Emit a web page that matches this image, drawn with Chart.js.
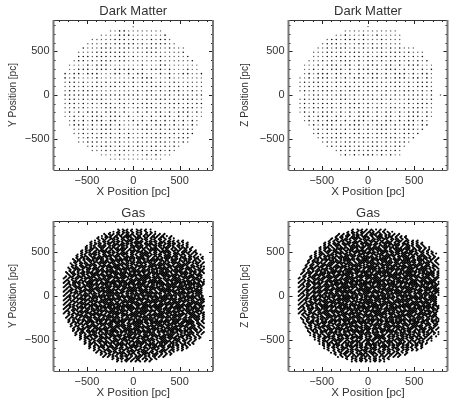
<!DOCTYPE html>
<html>
<head>
<meta charset="utf-8">
<style>
body { margin: 0; background: #fff; }
canvas { position: absolute; }
</style>
<script src="https://cdn.jsdelivr.net/npm/chart.js@4"></script>
</head>
<body>
<canvas id="dmXY" width="229" height="206" style="left:0;top:0"></canvas>
<canvas id="dmXZ" width="229" height="206" style="left:229px;top:0"></canvas>
<canvas id="gasXY" width="229" height="206" style="left:0;top:206px"></canvas>
<canvas id="gasXZ" width="229" height="206" style="left:229px;top:206px"></canvas>
<script>
const majorTicks = [-500, 0, 500];
const minorTicks = [-800, -700, -600, -400, -300, -200, -100, 100, 200, 300, 400, 600, 700, 800];

// dark matter particles sit on a regular lattice, # is a dark dot and + a faint one
const dmCols = [-735, -686, -637, -588, -539, -490, -441, -392, -343, -294, -245, -196, -147, -98, -49, 0, 49, 98, 147, 196, 245, 294, 343, 392, 441, 490, 539, 588, 637, 686, 735, 784, 833];
const dmRows = [784, 735, 686, 637, 588, 539, 490, 441, 392, 343, 294, 245, 196, 147, 98, 49, 0, -49, -98, -147, -196, -245, -294, -343, -392, -441, -490, -539, -588, -637, -686, -735];

const dmXYMask = [
  "               +                 ",
  "          ++##++++++++           ",
  "        ++++###+++++++#          ",
  "      +++++###+#+++#+##+         ",
  "     ++++#+#####+#+####++        ",
  "    #+++###+###+#+###++#+++      ",
  "   ++++#######++++###+++++#      ",
  "   ###+###+###+#+++++#+++++#     ",
  "  +##+#+###+##+++++++#++++++#    ",
  " ++++#+###+++++++#+++##+++++++   ",
  " ++###+###+#####+#+###+#+++#++   ",
  "#+##+###+++##+#+##+++#+#++##++#  ",
  "#+#++++#+++++++#+###+++#+++++++  ",
  "+##+#++#+#+###+#+###+#++#++++++  ",
  "++#+#+###+##+#+#+#+###+#+#+#+++  ",
  "+##+###+++++++++#+##+#+###++#++  ",
  "#################+###+##+###+##  ",
  "+##+#+###+++#+++#+#+###+#+###++  ",
  "+##+#+#+###+##+#+###+#+###+#+##  ",
  "++#+#++++###+#++#+###+#+#+###++  ",
  "+#+#+###+###+#++#+#+##+#+###+#+  ",
  "++#+#+###+###+#++#+#+###+#+#+++  ",
  " +#+#+###+##+++#+#+##+#+#+#+#+   ",
  " +###+#+###+#+++#+#+###+#+#+#+   ",
  "  ++#+#+###+#++++###+#+#+#+#+    ",
  "  ++#+#+###+#+#+++#+###+#+###    ",
  "   ++#+##+#+#+#++#+###+#+###     ",
  "   ++###+#+##+++#+#+###+#+#+     ",
  "     +#+###+#+#+##+##+#+#+       ",
  "      +++#+#+#+++#+###+#+        ",
  "        ++++#+++++#+#+++         ",
  "          ++++++++++++           "
];

const dmXZMask = [
  "               +                 ",
  "          ++++++++++++           ",
  "        ++#+++#++#+++++          ",
  "      +##+###+#+++#++++          ",
  "     +###+#++##+#+#++++          ",
  "    ++#+###+#+#+###+#+#+++       ",
  "   +++##+#+###+#++#+###+#+++     ",
  "   +++#+###+##+#+###+#+#+#+#     ",
  "  +++#+#+###+#+##+#+###+#+#+#    ",
  " +++#+###+##+#+###+##+#+###+++   ",
  " ++#+#+###+#+###+#+###+#+#+#+#   ",
  " +#+###+##+#+#+###+#+###+#+##+   ",
  "++#+###+#+#+###+##+#+###+##+#+   ",
  "+#+##+#+###+#+###+#+###+#+###+   ",
  "++#+###+#+##+#+###+#+##+#+###+   ",
  "+#+#+###+#+###+#+#+#+#+###+#+#   ",
  " ++##+#+###+#+###+##+#+#+###+# + +",
  "+#+###+#+##+#+#+###+#+++##+#+#   ",
  "+#+#+###+#+###+#++#+++++#+###+   ",
  "+#+###+#+#+###+#+#++##+#+###++   ",
  "+#+#+###+#+#+###+#+##+#+###+#+   ",
  " +#+###+##+#+###+#+##+#+###+#+   ",
  " +#+#+###+#+###+##+##+#+##+#+    ",
  "  +#+###+#+###+#+###+#+###+##    ",
  "   +#+###+#+##+#+###+#+###+#     ",
  "   +#+#+###+##+#+###+#+##+#      ",
  "    +#+###+#+###+#+###+#+#       ",
  "     +#+#+###+#+##+#+###+        ",
  "      +#+###+#+###+#+##+         ",
  "        +#+###+#+###+#+          ",
  "         +#+#+###+#+#++          ",
  "                                 "
];

// gas is far too dense to read one by one, so this is a coarse estimate of the grain,
// two masks laid on two lattices half a cell apart
const gasCols = [-750, -725, -700, -675, -650, -625, -600, -575, -550, -525, -500, -475, -450, -425, -400, -375, -350, -325, -300, -275, -250, -225, -200, -175, -150, -125, -100, -75, -50, -25, 0, 25, 50, 75, 100, 125, 150, 175, 200, 225, 250, 275, 300, 325, 350, 375, 400, 425, 450, 475, 500, 525, 550, 575, 600, 625, 650, 675, 700, 725, 750];
const gasRows = [750, 725, 700, 675, 650, 625, 600, 575, 550, 525, 500, 475, 450, 425, 400, 375, 350, 325, 300, 275, 250, 225, 200, 175, 150, 125, 100, 75, 50, 25, 0, -25, -50, -75, -100, -125, -150, -175, -200, -225, -250, -275, -300, -325, -350, -375, -400, -425, -450, -475, -500, -525, -550, -575, -600, -625, -650, -675, -700, -725, -750];
const gasColsB = [-738, -713, -688, -663, -638, -613, -588, -563, -538, -513, -488, -463, -438, -413, -388, -363, -338, -313, -288, -263, -238, -213, -188, -163, -138, -113, -88, -63, -38, -13, 12, 37, 62, 87, 112, 137, 162, 187, 212, 237, 262, 287, 312, 337, 362, 387, 412, 437, 462, 487, 512, 537, 562, 587, 612, 637, 662, 687, 712, 737, 762];
const gasRowsB = [762, 737, 712, 687, 662, 637, 612, 587, 562, 537, 512, 487, 462, 437, 412, 387, 362, 337, 312, 287, 262, 237, 212, 187, 162, 137, 112, 87, 62, 37, 12, -13, -38, -63, -88, -113, -138, -163, -188, -213, -238, -263, -288, -313, -338, -363, -388, -413, -438, -463, -488, -513, -538, -563, -588, -613, -638, -663, -688, -713, -738];

const gasXYMask = [
  "                       .#.##.#..##.#..",
  "                    #..##.###.#.##..#.#..",
  "                 .#.##.###.####.##.###.#.#.#",
  "               #..###.##.#####.###.##.###.##..#.",
  "              .#.##.####.##.#####.###.##.##.#.#.",
  "            #..#.###.#####.###.####.#####.##.###.#.#.",
  "           .#.###.###.##.#####.###.####.###.#####.#..#",
  "          #.##.####.###.####.######.##.#####.###.###.#.",
  "         .#.###.##.#####.###.##.#####.###.####.##.####.#.",
  "        #.###.#####.##.####.#####.##.#####.###.####.##.#.#",
  "       .#.##.###.#######.###.##.######.##.#####.##.####.##..",
  "      #.##.#####.##.##.#####.###.####.#####.###.#####.##.#.#",
  "     .#.###.##.######.###.#####.###.##.####.######.##.###.#.#.",
  "    #.##.###.#####.###.#####.##.#####.#####.##.####.####.##.#.",
  "    .###.#.####.####.#####.####.##.######.####.##.#####.##.#.#",
  "   #.#.####.##.####.###.#######.####.###.#####.####.###.###.#.#",
  "   .##.##.#####.#####.####.###.#####.#######.###.#####.##.##.#.",
  "  #.###.####.###.#.######.######.###.##.#######.####.####.##.#.#",
  "  .#.####.##.#####.###.######.###.#######.####.#####.###.####..#",
  " #.##.#.#####.##.#######.###.#######.####.#####.######.###.##.#.",
  " .#.###.###.######.##.#####.######.###.#######.###.###.#####.#.#",
  " #.##.####.###.#.#######.#######.#####.###.######.#######.##.#.#",
  "#.#.###.#####.#######.#####.##.#######.#######.####.###.####.##.#",
  ".##.##.###.######.##.#######.#######.######.#######.#####.##.#.#.",
  "#.#.#####.###.#.#######.#######.####.#######.#.######.#####.###.#",
  ".#.###.#.#######.####.#######.#######.###.#######.#######.###.#.#",
  "#.##.#####.##.#######.###.########.#######.#.#######.####.##.##.#",
  ".#.###.#.#######.#.########.####.#######.#######.#######.###.#.#.",
  "#.##.#####.###.#######.#.#######.######.#.#######.###.######.##.#",
  ".#.#.###.#######.#.#######.########.#######.###.#######.####.#.#.",
  "#.###.#.####.#########.#######.##.#######.#######.#.#######.##.#.",
  ".#.#.#####.####.#.#######.#.#########.#.#########.###.####.##.#.#",
  "#.###.#.#######.#######.#######.###.#########.###.#######.###.#.#",
  ".#.#.#####.##.########.#.########.#######.#.#######.#.#######.#.#.",
  "#.###.#.#######.#.#######.####.#######.#########.#######.###.##.#",
  ".#.##.####.##.#######.#########.#.#########.#.######.#####.###.#.",
  "#.#.###.#.#######.#.#######.#########.#.#######.###.#######.##.#.",
  ".##.#.#####.##.#########.###.#.#########.###.#######.##.####.#.#.",
  "#.#.###.#.#######.#.########.#######.#.########.#.#######.###.##.",
  " .#.#.#####.##.#######.#.#########.#########.#######.#.####.#.#",
  " #.###.#.#######.#.#######.###.#.#######.########.#.#######.#.#.",
  " .#.#.####.##.#########.#######.#######.#.#.#######.####.##.##.#",
  "  #.###.#.#####.#.#.#######.#.#######.########.###.######.#.#.#",
  "  .#.#.####.##.#######.####.#######.#.#.#########.##.####.##.#.",
  "   #.##.#.#####.#.#.#######.##.#########.###.#.#######.##.#.#.#",
  "   .#.####.#.#######.##.#.#######.#.#######.#######.#.####.#.#.",
  "    #.#.#.#####.#.######.#####.#######.#.#######.#####.#.#.#.#",
  "    .#.###.#.###.#####.#.#.#######.#####.#.#.#####.##.###.#.#.",
  "     #.#.#.####.#.#.#######.##.#.#.#######.#####.#.####.#.#",
  "      .#.##.#.#.#####.#.#.#######.###.#.#.#######.##.#.#.#.#",
  "       #.#.###.##.#.#.#######.#.#.#######.###.#.###.##.#.#",
  "        .#.#.#.#####.###.#.#.#######.#.#.#######.##.#.#.#",
  "         #.##.#.#.#.#.#######.#.###.#####.#.#.##.#.##.#.#",
  "          .#.#.###.###.#.#.#.#####.#.#.#####.###.#.#.#.",
  "           #.#.#.#.#.#####.###.#.#.#####.#.#.#.#.#.#.#",
  "            .#.##.###.#.#.#.#####.###.#.#.###.##.#.#.",
  "              #.#.#.#.#####.#.#.#.#####.#.#.#.#.",
  "               .#.#.##.#.#.###.#.###.#.##.#.#.#.",
  "                 #.#.#.#.#.#.#.###.#.#.#.#.#",
  "                    .#.#.#.##.#.#.#.#.#.#",
  "                       #.#.#.#.#.#.#.#"
];

const gasXZMask = [
  "                       #..##.#.##..#.#",
  "                    .#.###.##.###.##.#.#.",
  "                 #.#.##.####.#.###.##.##.#.#",
  "               .#.##.#.####.###.#.###.###.#.#.#.",
  "              #.##.####.##.####.####.##.####.#.#",
  "            .#.#.###.##.####.#.####.#.###.###.##.#.#.",
  "           #.#.###.####.##.#####.###.####.##.###.#.#.#",
  "          .#.##.###.#.#####.####.#.#####.###.#.###.##.#",
  "         #.###.#.#####.###.##.######.##.#####.###.#.##.#.",
  "        .#.#.####.#.####.#####.##.#####.#.####.###.##.#.#.",
  "       #.##.##.#####.##.###.#######.###.####.#####.#.##.#.#",
  "      .#.###.####.#.#####.###.#.#####.######.##.####.##.#.#.",
  "     #.#.#.###.#######.##.#######.##.###.#.#####.##.####.#.#.#",
  "    .#.##.####.##.#.#######.###.#######.#####.###.#.####.##.#.",
  "    #.###.#.#.#####.###.#.#######.#.#####.##.######.###.##.#.#",
  "   .#.#.####.###.#######.####.#######.###.#######.#.#####.#.##.",
  "   #.##.#.#####.##.##.#######.###.#.#######.###.######.##.##.#.",
  "  .#.###.##.#.#######.##.#.#######.#######.#.#######.###.##.#.#",
  "  #.#.#.#####.###.#.#######.#.####.#.#########.###.#####.#.#.#.",
  " .#.###.#.##.#######.###.########.#######.#.#.#######.#.###.#.#.",
  " #.#.#.#####.#.#.#######.#.#.#######.#.#######.####.#.#####.##.#",
  " .##.###.#.#######.#.###.#######.##.#######.#.#######.###.#.#.#.",
  "#.#.#.######.##.#.########.#.#######.#.#.#########.#.#####.##.#.#",
  ".#.###.#.##.#######.##.#######.#.#########.###.#.#######.###.#.#.",
  "#.#.#.#####.#.#.########.#.#########.#.###.#########.#.#####.#.#.",
  ".##.##.#.#.#######.###.#######.##.#########.#.#.#######.#.###.##.",
  "#.#.#.#####.##.#.#########.#.#######.#.#.#########.#.#######.#.#.",
  ".#.###.#.#.########.#.##.#######.#.#########.#.#######.###.##.#.#",
  "#.#.#.#####.#.#.#########.#.#########.###.#########.##.#.####.#.#",
  ".##.##.#.#.#######.#.#.########.#.#.#########.#.#.#######.##.#.#.",
  "#.#.#.#####.##.#########.#.#.#########.#.#.#########.#.#.###.##.#",
  ".#.###.#.#.#.#.#.#########.#.#.#.#########.#.#.#########.###.#.#.",
  "#.##.#.######.#########.##.#########.#.#.#########.#.#.#####.#.#.",
  ".#.#.###.#.#########.#.#.#########.#.#########.#.#########.#.##.#",
  "#.#.###.#####.#.#.#########.#.#.#######.###.#########.#.####.#.#.",
  ".##.#.#.#.#########.###.#.#########.#.#.#########.#.#######.##.#.",
  "#.#.###.#####.#.#.#########.###.#.#########.#.#.#######.#.###.#.#",
  ".#.#.#.#.#.#########.#.#.#.#########.###.#.#########.#.####.##.#.",
  "#.##.###.#####.#.#.#########.#.#.#########.#.#.###.#######.#.#.#.",
  " .#.#.#.#.#.#########.#.###.#########.#.#.#########.#.##.###.#.#",
  " #.##.###.#####.#.#.#########.#.#.#.#########.#.#.#####.#.#.##.#",
  " .#.#.#.#.#.#.#########.#.#.#########.#.###.#######.#.###.##.#.",
  "  #.###.#.#####.#.#.#.#########.#.#.#.#######.#.#.#####.#.#.#.#",
  "  .#.#.###.#.#.#########.#.#.#.#########.#.#.#######.#.###.##.#",
  "   #.#.#.#####.#.#.#.#######.###.#.#.#########.#.#####.#.#.#.#",
  "   .##.#.#.#.#########.#.#.#.#########.#.#.#.#####.#.###.##.#.",
  "    #.#.#.###.#.#.#.#########.#.#.#.#######.#.###.#.#.#.#.#.",
  "    .#.##.#.#####.#.#.#.#.#########.#.#.#.#####.#.###.#.##.#.",
  "     #.#.#.#.#.#.#######.#.#.#.#.#####.#.#.###.##.#.#.#.#.",
  "      .#.#.###.#.#.#.#.#####.#.#.#####.#.#.#.#.###.#.#.#.#",
  "       #.#.#.#.#####.#.#.#.#.#####.#.#.#.#####.#.#.##.#.#",
  "        .#.##.#.#.#.#.#####.#.#.#.#.#####.#.#.#.#.#.#.#.",
  "         #.#.#.###.#.#.#.#.#.#####.#.#.#.#.###.#.#.#.#.#",
  "          .#.#.#.#.#.#####.#.#.#.#.#####.#.#.#.#.#.#.#.",
  "           #.#.#.#.###.#.#.#.#####.#.#.#.###.#.#.#.#.#",
  "            .#.#.#.#.#.#.#####.#.#.#.#.#.#.#.#.#.#.#.",
  "              #.#.#.##.#.#.#.#.###.#.#.#.#.#.#.#",
  "               .#.#.#.#.#.###.#.#.#.#.#.#.#.#.#.",
  "                 #.#.#.#.#.#.#.#.#.#.#.#.#.#",
  "                    .#.#.#.#.#.#.#.#.#.#.",
  "                       #.#.#.#.#.#.#.#"
];

function maskToPoints(mask, cols, rows, mark) {
  const points = [];
  mask.forEach((line, r) => {
    for (let c = 0; c < line.length && c < cols.length; c++) {
      if (line[c] === mark) points.push({ x: cols[c], y: rows[r] });
    }
  });
  return points;
}

const FONT = 'Liberation Sans, Arial, sans-serif';
const INK = '#333';

// IDL style inward ticks on all four sides plus the box
const frameTicks = {
  id: 'frameTicks',
  afterDatasetsDraw(chart) {
    const { ctx, chartArea: a, scales } = chart;
    ctx.save();
    ctx.strokeStyle = '#222';
    ctx.lineWidth = 1;
    const tickSet = (vals, len) => {
      vals.forEach(v => {
        const px = Math.round(scales.x.getPixelForValue(v)) + 0.5;
        const py = Math.round(scales.y.getPixelForValue(v)) + 0.5;
        ctx.beginPath();
        ctx.moveTo(px, a.top); ctx.lineTo(px, a.top + len);
        ctx.moveTo(px, a.bottom); ctx.lineTo(px, a.bottom - len);
        ctx.moveTo(a.left, py); ctx.lineTo(a.left + len, py);
        ctx.moveTo(a.right, py); ctx.lineTo(a.right - len, py);
        ctx.stroke();
      });
    };
    tickSet(majorTicks, 4);
    tickSet(minorTicks, 2);
    ctx.strokeStyle = '#333';
    ctx.beginPath();
    ctx.moveTo(a.left, a.top + 0.5); ctx.lineTo(a.right, a.top + 0.5);
    ctx.stroke();
    ctx.strokeStyle = '#555';
    ctx.beginPath();
    ctx.moveTo(a.left, a.bottom + 0.5); ctx.lineTo(a.right, a.bottom + 0.5);
    ctx.stroke();
    ctx.strokeStyle = '#777';
    ctx.lineWidth = 2;
    ctx.beginPath();
    ctx.moveTo(a.left, a.top); ctx.lineTo(a.left, a.bottom);
    ctx.moveTo(a.right, a.top); ctx.lineTo(a.right, a.bottom);
    ctx.stroke();
    ctx.restore();
  }
};

function makePanel(id, p) {
  new Chart(document.getElementById(id), {
    type: 'scatter',
    data: {
      datasets: p.sets.map(s => ({
        data: s.points,
        backgroundColor: s.color,
        borderWidth: 0,
        pointRadius: s.radius,
        pointHoverRadius: s.radius
      }))
    },
    options: {
      responsive: false,
      animation: false,
      layout: { padding: { right: p.right, top: 0, bottom: 0, left: 0 } },
      plugins: {
        legend: { display: false },
        tooltip: { enabled: false },
        title: {
          display: true,
          text: p.title,
          fullSize: false,
          color: INK,
          font: { family: FONT, size: 13, weight: 'normal', lineHeight: 1 },
          padding: p.titlePad
        }
      },
      scales: {
        x: {
          type: 'linear',
          min: -860,
          max: 860,
          afterBuildTicks: s => { s.ticks = majorTicks.map(v => ({ value: v })); },
          afterFit: s => { s.height = p.xHeight; },
          grid: { display: false, drawTicks: false },
          border: { display: false },
          ticks: {
            color: INK,
            padding: 4,
            maxRotation: 0,
            font: { family: FONT, size: 11 },
            callback: v => (v < 0 ? '\u2212' + (-v) : '' + v)
          },
          title: {
            display: true,
            text: p.xLabel,
            color: INK,
            font: { family: FONT, size: 11.5, lineHeight: 1 },
            padding: { top: 0, bottom: p.xTitleGap }
          }
        },
        y: {
          type: 'linear',
          min: -860,
          max: 860,
          afterBuildTicks: s => { s.ticks = majorTicks.map(v => ({ value: v })); },
          afterFit: s => { s.width = p.yWidth; },
          grid: { display: false, drawTicks: false },
          border: { display: false },
          ticks: {
            color: INK,
            padding: 4,
            font: { family: FONT, size: 11 },
            callback: v => (v < 0 ? '\u2212' + (-v) : '' + v)
          },
          title: {
            display: true,
            text: p.yLabel,
            color: INK,
            font: { family: FONT, size: 10, lineHeight: 1 },
            padding: { top: p.yTitleGap, bottom: 0 }
          }
        }
      }
    },
    plugins: [frameTicks]
  });
}

function dmSets(mask) {
  return [
    { points: maskToPoints(mask, dmCols, dmRows, '+'), color: '#555', radius: 0.7 },
    { points: maskToPoints(mask, dmCols, dmRows, '#'), color: '#111', radius: 0.8 }
  ];
}
// second layer is read bottom-up so its gaps do not line up with the first
function gasSets(maskA, maskB) {
  return [
    { points: maskToPoints(maskA, gasCols, gasRows, '#'), color: '#000', radius: 1.05 },
    { points: maskToPoints(maskB.slice().reverse(), gasColsB, gasRowsB, '#'), color: '#000', radius: 1.05 }
  ];
}

makePanel('dmXY', {
  sets: dmSets(dmXYMask), title: 'Dark Matter',
  xLabel: 'X Position [pc]', yLabel: 'Y Position [pc]',
  right: 16, yWidth: 53.5, xHeight: 36, xTitleGap: 8, yTitleGap: 8,
  titlePad: { top: 5, bottom: 2 }
});
makePanel('dmXZ', {
  sets: dmSets(dmXZMask), title: 'Dark Matter',
  xLabel: 'X Position [pc]', yLabel: 'Z Position [pc]',
  right: 10.5, yWidth: 59.5, xHeight: 36, xTitleGap: 8, yTitleGap: 11,
  titlePad: { top: 5, bottom: 2 }
});
makePanel('gasXY', {
  sets: gasSets(gasXYMask, gasXZMask), title: 'Gas',
  xLabel: 'X Position [pc]', yLabel: 'Y Position [pc]',
  right: 16, yWidth: 53.5, xHeight: 41, xTitleGap: 13, yTitleGap: 8,
  titlePad: { top: 1, bottom: 1 }
});
makePanel('gasXZ', {
  sets: gasSets(gasXZMask, gasXYMask), title: 'Gas',
  xLabel: 'X Position [pc]', yLabel: 'Z Position [pc]',
  right: 10.5, yWidth: 59.5, xHeight: 41, xTitleGap: 13, yTitleGap: 11,
  titlePad: { top: 1, bottom: 1 }
});
</script>
</body>
</html>
